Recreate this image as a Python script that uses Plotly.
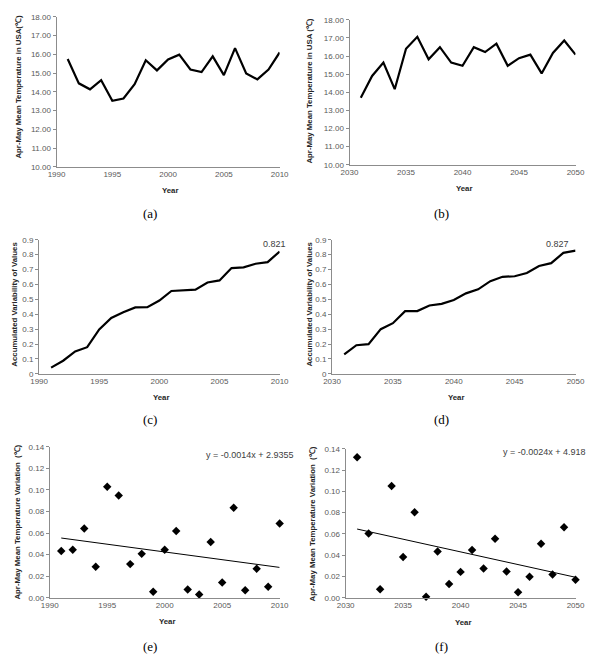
import numpy as np
import plotly.graph_objects as go

years_hist = list(range(1991, 2011))
years_fut = list(range(2031, 2051))

temp_hist = [15.75, 14.45, 14.13, 14.62, 13.52, 13.64, 14.40, 15.68, 15.14, 15.72,
             15.98, 15.19, 15.05, 15.89, 14.89, 16.33, 14.98, 14.66, 15.19, 16.10]
temp_fut = [13.70, 14.90, 15.64, 14.17, 16.40, 17.06, 15.82, 16.49, 15.64, 15.46,
            16.49, 16.22, 16.68, 15.46, 15.88, 16.08, 15.04, 16.17, 16.86, 16.08]

accum_hist = [0.042, 0.088, 0.150, 0.179, 0.298, 0.375, 0.413, 0.446, 0.448, 0.492,
              0.556, 0.560, 0.565, 0.613, 0.627, 0.710, 0.715, 0.739, 0.750, 0.821]
accum_fut = [0.130, 0.192, 0.199, 0.300, 0.340, 0.421, 0.421, 0.459, 0.470, 0.496,
             0.540, 0.567, 0.622, 0.651, 0.655, 0.677, 0.724, 0.743, 0.812, 0.827]

var_hist = [0.0434, 0.0446, 0.0642, 0.0287, 0.1030, 0.0948, 0.0312, 0.0407, 0.0055, 0.0446,
            0.0620, 0.0076, 0.0030, 0.0517, 0.0141, 0.0835, 0.0070, 0.0269, 0.0101, 0.0688]
var_fut = [0.1320, 0.0603, 0.0080, 0.1050, 0.0382, 0.0803, 0.0009, 0.0434, 0.0129, 0.0243,
           0.0449, 0.0274, 0.0554, 0.0246, 0.0052, 0.0197, 0.0508, 0.0218, 0.0662, 0.0169]

captions = ["(a)", "(b)", "(c)", "(d)", "(e)", "(f)"]
ytitle_temp_a = "Apr-May Mean Temperature in USA(℃)"
ytitle_temp_b = "Apr-May Mean Temperature in USA (℃)"
ytitle_acc = "Accumulated Variability of Values"
ytitle_var = "Apr-May Mean Temperature Variation  (℃)"
xtitle = "Year"
label_c = "0.821"
label_d = "0.827"
eq_e = "y = -0.0014x + 2.9355"
eq_f = "y = -0.0024x + 4.918"

W, H = 602, 656
def px(x):
    return x / W
def py(y):
    return 1 - y / H

fig = go.Figure()

panels = [
    dict(box=(49, 279, 13, 165), ytx=10, ytc=84, xr=[1990, 2010], yr=[10, 18], dt=1, fmt=".2f", yt=ytitle_temp_a, cap_y=212, xt_y=189),
    dict(box=(351, 584, 16, 163), ytx=310, ytc=88, xr=[2030, 2050], yr=[10, 18], dt=1, fmt=".2f", yt=ytitle_temp_b, cap_y=212, xt_y=187),
    dict(box=(31, 279, 239, 375), ytx=6, ytc=304, xr=[1990, 2010], yr=[0, 0.9], dt=0.1, fmt="", yt=ytitle_acc, cap_y=421, xt_y=399),
    dict(box=(333, 584, 239, 375), ytx=310, ytc=304, xr=[2030, 2050], yr=[0, 0.9], dt=0.1, fmt="", yt=ytitle_acc, cap_y=421, xt_y=399),
    dict(box=(42, 279, 449, 602), ytx=9, ytc=525, xr=[1990, 2010], yr=[0, 0.14], dt=0.02, fmt=".2f", yt=ytitle_var, cap_y=651, xt_y=626),
    dict(box=(347, 584, 451, 602), ytx=313, ytc=527, xr=[2030, 2050], yr=[0, 0.14], dt=0.02, fmt=".2f", yt=ytitle_var, cap_y=651, xt_y=627),
]

series = [
    (years_hist, temp_hist, "line"),
    (years_fut, temp_fut, "line"),
    (years_hist, accum_hist, "line"),
    (years_fut, accum_fut, "line"),
    (years_hist, var_hist, "scatter"),
    (years_fut, var_fut, "scatter"),
]

tick_font = dict(family="Liberation Sans, Arial, sans-serif", size=8, color="#595959")
title_font = dict(family="Liberation Sans, Arial, sans-serif", size=7.8, color="#262626")
annotations = []

for i, (p, (xs, ys, kind)) in enumerate(zip(panels, series)):
    n = "" if i == 0 else str(i + 1)
    xa, ya = "x" + n, "y" + n
    l, r, t, b = p["box"]
    fig.update_layout(**{
        "xaxis" + n: dict(domain=[px(l), px(r)], range=p["xr"], dtick=5, tick0=1990,
                          showgrid=False, zeroline=False, showline=True, linecolor="#8c8c8c",
                          linewidth=1, ticks="", tickfont=tick_font, anchor=ya),
        "yaxis" + n: dict(domain=[py(b), py(t)], range=p["yr"], dtick=p["dt"], tick0=0,
                          tickformat=p["fmt"], showgrid=False, zeroline=False, showline=True,
                          linecolor="#8c8c8c", linewidth=1, ticks="outside", ticklen=3,
                          tickcolor="#8c8c8c", tickfont=tick_font, anchor=xa),
    })
    if kind == "line":
        fig.add_trace(go.Scatter(x=xs, y=ys, mode="lines", line=dict(color="black", width=2.2),
                                 xaxis=xa, yaxis=ya, showlegend=False, cliponaxis=False))
    else:
        fig.add_trace(go.Scatter(x=xs, y=ys, mode="markers",
                                 marker=dict(symbol="diamond", size=6.5, color="black"),
                                 xaxis=xa, yaxis=ya, showlegend=False, cliponaxis=False))
        slope, icpt = np.polyfit(xs, ys, 1)
        fx = [xs[0], xs[-1]]
        fy = [slope * v + icpt for v in fx]
        fig.add_trace(go.Scatter(x=fx, y=fy, mode="lines", line=dict(color="black", width=1),
                                 xaxis=xa, yaxis=ya, showlegend=False))
    annotations.append(dict(text="<b>" + p["yt"] + "</b>", textangle=-90, xref="paper", yref="paper",
                            x=px(p["ytx"]), y=py(p["ytc"]), showarrow=False, font=title_font,
                            xanchor="center", yanchor="middle"))
    annotations.append(dict(text="<b>" + xtitle + "</b>", xref="paper", yref="paper",
                            x=px((l + r) / 2 + 2), y=py(p["xt_y"]), showarrow=False, font=title_font,
                            xanchor="center", yanchor="middle"))
    annotations.append(dict(text=captions[i], xref="paper", yref="paper",
                            x=px(145 if i % 2 == 0 else 446), y=py(p["cap_y"]), showarrow=False,
                            font=dict(family="Liberation Serif, Times New Roman, serif", size=13, color="black"),
                            xanchor="center", yanchor="middle"))

label_font = dict(family="Liberation Sans, Arial, sans-serif", size=9, color="#404040")
annotations.append(dict(text=label_c, xref="x3", yref="y3", x=2009.6, y=0.87, showarrow=False, font=label_font))
annotations.append(dict(text=label_d, xref="x4", yref="y4", x=2048.5, y=0.87, showarrow=False, font=label_font))
annotations.append(dict(text=eq_e, xref="x5", yref="y5", x=2007.4, y=0.1327, showarrow=False, font=label_font))
annotations.append(dict(text=eq_f, xref="x6", yref="y6", x=2047.3, y=0.137, showarrow=False, font=label_font))

fig.update_layout(width=W, height=H, margin=dict(l=0, r=0, t=0, b=0),
                  plot_bgcolor="white", paper_bgcolor="white", annotations=annotations)

fig.write_html("out.html")
